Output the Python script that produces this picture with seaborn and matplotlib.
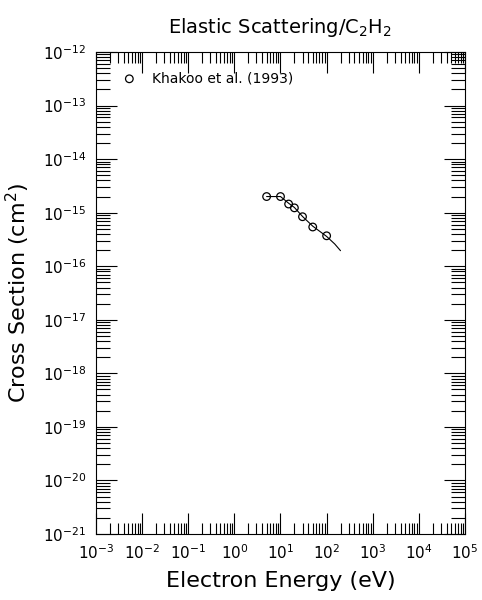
import numpy as np
import pandas as pd
import seaborn as sns
import matplotlib
matplotlib.use('Agg')
import matplotlib.pyplot as plt
from matplotlib.ticker import LogLocator, NullFormatter

# Khakoo et al. (1993) measured points
energy = [5, 10, 15, 20, 30, 50, 100]
sigma = [2.0e-15, 2.0e-15, 1.45e-15, 1.23e-15, 8.4e-16, 5.4e-16, 3.7e-16]

# recommended curve
curve_e = [5, 10, 15, 20, 30, 50, 100, 150, 200]
curve_s = [2.0e-15, 2.0e-15, 1.5e-15, 1.25e-15, 8.5e-16, 5.6e-16, 3.6e-16, 2.6e-16, 1.95e-16]

pts = pd.DataFrame({'E': energy, 'sigma': sigma})
cur = pd.DataFrame({'E': curve_e, 'sigma': curve_s})

sns.set_style('ticks')
plt.rcParams['font.family'] = ['DejaVu Sans']
plt.rcParams['text.color'] = 'black'
plt.rcParams['axes.labelcolor'] = 'black'
plt.rcParams['xtick.color'] = 'black'
plt.rcParams['ytick.color'] = 'black'
plt.rcParams['axes.edgecolor'] = 'black'

fig = plt.figure(figsize=(4.82, 6.00), dpi=100)
ax = fig.add_axes([96 / 482, 66 / 600, 369 / 482, 482 / 600])

sns.lineplot(data=cur, x='E', y='sigma', ax=ax, color='black', lw=0.8)
sns.scatterplot(data=pts, x='E', y='sigma', ax=ax, marker='o', s=30,
                facecolor='none', edgecolor='black', linewidth=0.9,
                label='Khakoo et al. (1993)')

ax.set_xscale('log')
ax.set_yscale('log')
ax.set_xlim(1e-3, 1e5)
ax.set_ylim(1e-21, 1e-12)

ax.xaxis.set_major_locator(LogLocator(base=10, numticks=20))
ax.yaxis.set_major_locator(LogLocator(base=10, numticks=20))
ax.xaxis.set_minor_locator(LogLocator(base=10, subs=np.arange(2, 10), numticks=100))
ax.yaxis.set_minor_locator(LogLocator(base=10, subs=np.arange(2, 10), numticks=100))
ax.xaxis.set_minor_formatter(NullFormatter())
ax.yaxis.set_minor_formatter(NullFormatter())

ax.tick_params(which='both', direction='in', top=True, right=True, width=0.8)
ax.tick_params(which='major', length=15, labelsize=11, pad=7)
ax.tick_params(axis='x', which='minor', length=8)
ax.tick_params(axis='y', which='minor', length=10)
for s in ax.spines.values():
    s.set_linewidth(0.8)

ax.set_xlabel('Electron Energy (eV)', fontsize=16, labelpad=6)
ax.set_ylabel('Cross Section (cm$^2$)', fontsize=16, labelpad=8)
ax.set_title('Elastic Scattering/C$_2$H$_2$', fontsize=14, pad=14)

ax.legend(loc='upper left', frameon=False, fontsize=10, handletextpad=0.6,
          borderaxespad=0.8, borderpad=0.6)

fig.savefig('out.png', dpi=100)
